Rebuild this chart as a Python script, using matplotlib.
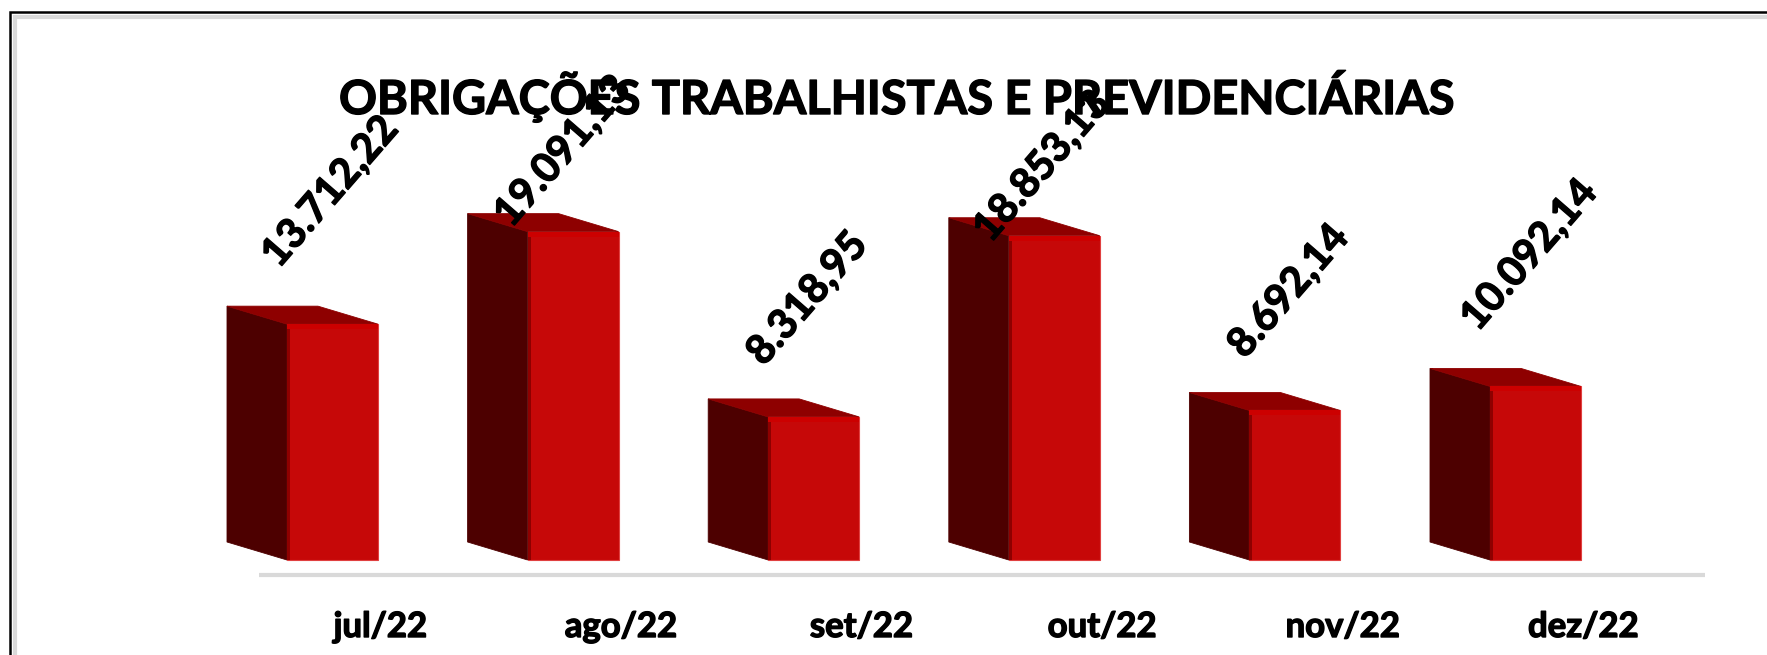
import matplotlib
matplotlib.use("Agg")
import matplotlib.pyplot as plt
import matplotlib.patheffects as pe
from matplotlib.patches import Polygon, Rectangle

months = ["jul/22", "ago/22", "set/22", "out/22", "nov/22", "dez/22"]
values = [13712.22, 19091.13, 8318.95, 18853.13, 8692.14, 10092.14]
value_labels = ["13.712,22", "19.091,13", "8.318,95", "18.853,13", "8.692,14", "10.092,14"]
title = "OBRIGAÇÕES TRABALHISTAS E PREVIDENCIÁRIAS"

W, H = 1767, 655
PX_PER_VALUE = 0.0172
X0, DX = 332.5, 240.6
BASE = 560

FRONT = "#c60808"
SIDE = "#4d0000"
TOP = "#8e0000"

plt.rcParams["font.family"] = ["Lato", "DejaVu Sans"]
heavy = [pe.withStroke(linewidth=1.0, foreground="black")]

fig = plt.figure(figsize=(W / 100, H / 100), dpi=100)
ax = fig.add_axes([0, 0, 1, 1])
# one category = DX pixels, value scale
ax.set_xlim(-X0 / DX, (W - X0) / DX)
ax.set_ylim((BASE - H) / PX_PER_VALUE, BASE / PX_PER_VALUE)
ax.axis("off")

half = 45.5 / DX
depth_x = 60 / DX
depth_y = 18 / PX_PER_VALUE

# hand-placed labels in the original: pixel shift from bar centre / bar top
label_dx = [-2, -10, -6, -12, -6, -6]
label_dy = [132, 80, 118, 69, 119, 131]

for i, v in enumerate(values):
    left, right = i - half, i + half
    ax.add_patch(Polygon([(left - depth_x, depth_y), (left, 0), (left, v), (left - depth_x, v + depth_y)],
                         fc=SIDE, ec=SIDE, lw=0.6))
    ax.add_patch(Polygon([(left - depth_x, v + depth_y), (right - depth_x, v + depth_y), (right, v), (left, v)],
                         fc=TOP, ec=TOP, lw=0.6))
    ax.add_patch(Rectangle((left, 0), right - left, v, fc=FRONT, ec="#e04040", lw=0.8))
    ax.add_patch(Rectangle((left, 0), 3 / DX, v, fc="#8e0000", ec="none"))
    ax.add_patch(Rectangle((left, v - 5 / PX_PER_VALUE), right - left, 5 / PX_PER_VALUE, fc="#cc0000", ec="none"))
    ax.text(i + label_dx[i] / DX, v + label_dy[i] / PX_PER_VALUE, value_labels[i], rotation=49,
            rotation_mode="anchor", ha="center", va="center", fontsize=29.3, fontweight="bold", color="black",
            path_effects=heavy)
    ax.text(i + 48 / DX, (BASE - 627) / PX_PER_VALUE, months[i], ha="center", va="center",
            fontsize=25, fontweight="bold", color="black", path_effects=heavy)

# axis line
ax.plot([(259 - X0) / DX, (1705 - X0) / DX], [(BASE - 575) / PX_PER_VALUE] * 2, color="#d9d9d9", lw=3,
        solid_capstyle="butt")

ax.text((897 - X0) / DX, (BASE - 96) / PX_PER_VALUE, title, ha="center", va="center", fontsize=33.8,
        fontweight="bold", color="black", path_effects=heavy)

# chart frame
fig.add_artist(Rectangle((10 / W, -0.02), 1.1, 1 - 12 / H + 0.02, transform=fig.transFigure, fc="none",
                         ec="black", lw=1.8))
fig.add_artist(Rectangle((14.5 / W, -0.02), 1.1, 1 - 17 / H + 0.02, transform=fig.transFigure, fc="none",
                         ec="#d9d9d9", lw=3))

fig.savefig("out.png", dpi=100)
